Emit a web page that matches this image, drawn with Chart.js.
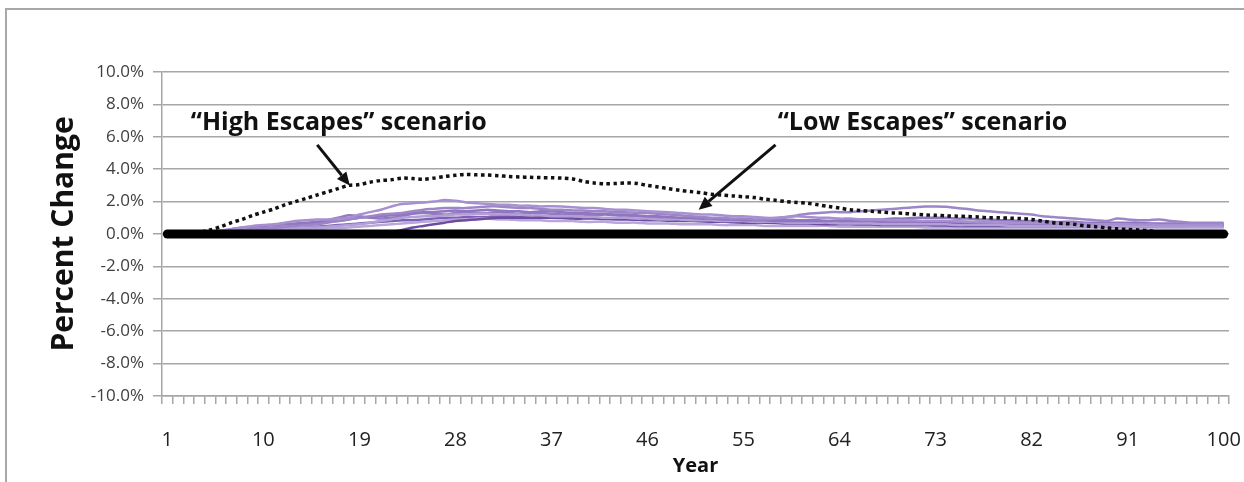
<!DOCTYPE html>
<html lang="en">
  <head>
    <meta charset="UTF-8" />
    <title>Percent Change by Year</title>
    <style>
      body { margin: 0; background: #fff; }
      #wrap { position: relative; width: 1244px; height: 482px; overflow: hidden; }
      #frame { position: absolute; left: 5px; top: 8px; right: -10px; bottom: -10px; border: 2px solid #a8a8a8; pointer-events: none; }
    </style>
  </head>
  <body>
    <div id="wrap">
      <canvas id="escapeChart"></canvas>
      <div id="frame"></div>
    </div>

    <script src="https://cdn.jsdelivr.net/npm/chart.js"></script>
    <script>
      // years 1..100
      const years = [];
      for (let y = 1; y <= 100; y++) years.push(String(y));
      const yearTicks = ["1", "10", "19", "28", "37", "46", "55", "64", "73", "82", "91", "100"];

      const baseline = [
        0, 0, 0, 0, 0, 0, 0, 0, 0, 0, 0, 0, 0, 0, 0, 0, 0, 0, 0, 0,
        0, 0, 0, 0, 0, 0, 0, 0, 0, 0, 0, 0, 0, 0, 0, 0, 0, 0, 0, 0,
        0, 0, 0, 0, 0, 0, 0, 0, 0, 0, 0, 0, 0, 0, 0, 0, 0, 0, 0, 0,
        0, 0, 0, 0, 0, 0, 0, 0, 0, 0, 0, 0, 0, 0, 0, 0, 0, 0, 0, 0,
        0, 0, 0, 0, 0, 0, 0, 0, 0, 0, 0, 0, 0, 0, 0, 0, 0, 0, 0, 0,
      ];

      const highEscapes = [
        0, 0, 0, 0.1, 0.25, 0.45, 0.7, 0.9, 1.15, 1.35,
        1.55, 1.8, 2.0, 2.2, 2.4, 2.6, 2.8, 3.0, 3.05, 3.2,
        3.3, 3.35, 3.45, 3.42, 3.38, 3.45, 3.55, 3.62, 3.68, 3.65,
        3.64, 3.6, 3.55, 3.52, 3.5, 3.48, 3.47, 3.45, 3.4, 3.25,
        3.15, 3.1, 3.12, 3.15, 3.12, 3.0, 2.9, 2.8, 2.7, 2.62,
        2.55, 2.45, 2.4, 2.35, 2.3, 2.25, 2.15, 2.08, 2.0, 1.95,
        1.9, 1.8, 1.7, 1.6, 1.5, 1.45, 1.4, 1.35, 1.3, 1.28,
        1.22, 1.18, 1.15, 1.12, 1.1, 1.08, 1.05, 1.0, 1.0, 0.98,
        0.95, 0.9, 0.8, 0.7, 0.65, 0.6, 0.5, 0.45, 0.38, 0.32,
        0.28, 0.25, 0.2, 0.1, 0, 0, 0, 0, 0, 0,
      ];

      const low1 = [
        0, 0, 0, 0.05, 0.1, 0.2, 0.3, 0.4, 0.5, 0.55,
        0.6, 0.7, 0.8, 0.85, 0.9, 0.9, 0.95, 1.0, 1.2, 1.35,
        1.5, 1.7, 1.85, 1.9, 1.95, 2.0, 2.1, 2.05, 1.95, 1.9,
        1.85, 1.8, 1.8, 1.75, 1.75, 1.7, 1.72, 1.7, 1.65, 1.6,
        1.6, 1.55, 1.5, 1.5, 1.45, 1.4, 1.38, 1.35, 1.3, 1.25,
        1.2, 1.2, 1.15, 1.1, 1.1, 1.05, 1.0, 1.0, 1.05, 1.1,
        1.05, 1.0, 1.0, 0.95, 0.95, 0.9, 0.9, 0.88, 0.85, 0.85,
        0.85, 0.8, 0.8, 0.8, 0.78, 0.75, 0.75, 0.72, 0.7, 0.7,
        0.7, 0.7, 0.68, 0.65, 0.65, 0.65, 0.62, 0.6, 0.6, 0.6,
        0.6, 0.58, 0.58, 0.55, 0.55, 0.55, 0.55, 0.55, 0.55, 0.55,
      ];
      const low2 = [
        0, 0, 0, 0, 0.05, 0.1, 0.15, 0.2, 0.3, 0.35,
        0.4, 0.45, 0.5, 0.55, 0.6, 0.7, 0.8, 0.9, 1.0, 1.1,
        1.2, 1.25, 1.3, 1.4, 1.5, 1.55, 1.6, 1.6, 1.6, 1.65,
        1.7, 1.7, 1.65, 1.6, 1.6, 1.55, 1.5, 1.5, 1.45, 1.45,
        1.4, 1.4, 1.35, 1.35, 1.3, 1.3, 1.25, 1.2, 1.15, 1.1,
        1.05, 1.0, 1.0, 0.95, 0.95, 0.9, 0.9, 0.95, 1.05, 1.15,
        1.25, 1.3, 1.35, 1.35, 1.35, 1.4, 1.45, 1.5, 1.55, 1.6,
        1.65, 1.7, 1.7, 1.68, 1.6, 1.55, 1.45, 1.4, 1.35, 1.3,
        1.25, 1.2, 1.1, 1.05, 1.0, 0.95, 0.9, 0.85, 0.8, 0.95,
        0.9, 0.85, 0.85, 0.9, 0.8, 0.75, 0.7, 0.7, 0.7, 0.7,
      ];
      const low3 = [
        0, 0, 0, 0.05, 0.1, 0.15, 0.2, 0.25, 0.3, 0.35,
        0.4, 0.45, 0.55, 0.65, 0.7, 0.75, 0.8, 0.9, 1.0, 1.05,
        1.1, 1.15, 1.2, 1.3, 1.35, 1.35, 1.4, 1.45, 1.4, 1.45,
        1.5, 1.45, 1.4, 1.4, 1.35, 1.4, 1.4, 1.35, 1.3, 1.3,
        1.25, 1.25, 1.2, 1.2, 1.15, 1.1, 1.1, 1.05, 1.0, 1.0,
        0.95, 0.95, 0.9, 0.9, 0.85, 0.85, 0.85, 0.8, 0.8, 0.8,
        0.8, 0.8, 0.8, 0.85, 0.85, 0.9, 0.9, 0.9, 0.95, 0.95,
        1.0, 1.0, 1.0, 1.0, 0.95, 0.95, 0.9, 0.9, 0.85, 0.85,
        0.8, 0.8, 0.8, 0.75, 0.75, 0.75, 0.7, 0.7, 0.7, 0.7,
        0.7, 0.7, 0.65, 0.65, 0.65, 0.65, 0.6, 0.6, 0.6, 0.6,
      ];
      const low4 = [
        0, 0, 0, 0, 0.05, 0.1, 0.15, 0.2, 0.25, 0.3,
        0.3, 0.35, 0.35, 0.4, 0.4, 0.45, 0.5, 0.55, 0.6, 0.7,
        0.8, 0.9, 1.0, 1.05, 1.1, 1.1, 1.15, 1.2, 1.2, 1.25,
        1.25, 1.2, 1.2, 1.2, 1.15, 1.15, 1.1, 1.1, 1.1, 1.05,
        1.05, 1.0, 1.0, 1.0, 0.95, 0.95, 0.9, 0.9, 0.9, 0.85,
        0.85, 0.85, 0.8, 0.8, 0.8, 0.75, 0.75, 0.75, 0.7, 0.7,
        0.7, 0.7, 0.7, 0.65, 0.65, 0.65, 0.65, 0.6, 0.6, 0.6,
        0.6, 0.6, 0.6, 0.6, 0.55, 0.55, 0.55, 0.55, 0.55, 0.5,
        0.5, 0.5, 0.5, 0.5, 0.5, 0.5, 0.5, 0.5, 0.5, 0.5,
        0.5, 0.5, 0.5, 0.48, 0.48, 0.48, 0.45, 0.45, 0.45, 0.45,
      ];
      const low5 = [
        0, 0, 0, 0, 0, 0, 0, 0, 0, 0,
        0, 0, 0, 0, 0, 0, 0, 0, 0.02, 0.05,
        0.1, 0.15, 0.25, 0.4, 0.5, 0.6, 0.7, 0.8, 0.85, 0.9,
        0.95, 1.0, 1.0, 1.0, 1.0, 1.0, 1.0, 0.98, 0.95, 0.95,
        0.95, 0.92, 0.9, 0.9, 0.88, 0.85, 0.85, 0.82, 0.8, 0.8,
        0.78, 0.75, 0.75, 0.72, 0.7, 0.7, 0.7, 0.68, 0.65, 0.65,
        0.65, 0.62, 0.6, 0.6, 0.6, 0.58, 0.58, 0.55, 0.55, 0.55,
        0.55, 0.55, 0.52, 0.52, 0.5, 0.5, 0.5, 0.5, 0.5, 0.5,
        0.5, 0.5, 0.5, 0.5, 0.5, 0.5, 0.5, 0.5, 0.5, 0.5,
        0.5, 0.5, 0.5, 0.5, 0.5, 0.5, 0.5, 0.5, 0.5, 0.5,
      ];
      const low6 = [
        0, 0, 0, 0, 0, 0.05, 0.1, 0.15, 0.2, 0.2,
        0.25, 0.25, 0.3, 0.3, 0.3, 0.35, 0.35, 0.4, 0.45, 0.5,
        0.55, 0.6, 0.65, 0.7, 0.75, 0.8, 0.85, 0.9, 0.9, 0.95,
        0.95, 0.9, 0.9, 0.85, 0.85, 0.85, 0.8, 0.8, 0.8, 0.75,
        0.75, 0.75, 0.7, 0.7, 0.7, 0.65, 0.65, 0.65, 0.6, 0.6,
        0.6, 0.6, 0.55, 0.55, 0.55, 0.55, 0.5, 0.5, 0.5, 0.5,
        0.5, 0.5, 0.5, 0.45, 0.45, 0.45, 0.45, 0.45, 0.45, 0.45,
        0.45, 0.4, 0.4, 0.4, 0.4, 0.4, 0.4, 0.4, 0.4, 0.4,
        0.4, 0.4, 0.4, 0.4, 0.4, 0.4, 0.4, 0.4, 0.4, 0.4,
        0.4, 0.4, 0.4, 0.4, 0.4, 0.4, 0.4, 0.4, 0.4, 0.4,
      ];
      const low7 = [
        0, 0, 0, 0.05, 0.1, 0.2, 0.3, 0.4, 0.45, 0.5,
        0.55, 0.6, 0.65, 0.7, 0.75, 0.85, 1.0, 1.15, 1.1, 1.0,
        0.95, 1.0, 1.1, 1.25, 1.3, 1.25, 1.2, 1.3, 1.35, 1.3,
        1.3, 1.35, 1.3, 1.25, 1.3, 1.3, 1.25, 1.2, 1.2, 1.2,
        1.15, 1.2, 1.15, 1.1, 1.1, 1.05, 1.0, 1.0, 0.95, 0.95,
        0.95, 0.9, 0.9, 0.9, 0.85, 0.85, 0.9, 0.9, 0.9, 0.85,
        0.85, 0.85, 0.8, 0.8, 0.8, 0.8, 0.75, 0.75, 0.75, 0.75,
        0.75, 0.8, 0.8, 0.8, 0.75, 0.75, 0.7, 0.7, 0.7, 0.7,
        0.7, 0.7, 0.65, 0.65, 0.65, 0.65, 0.65, 0.65, 0.6, 0.6,
        0.65, 0.65, 0.6, 0.6, 0.6, 0.6, 0.6, 0.6, 0.6, 0.6,
      ];
      const low8 = [
        0, 0, 0, 0, 0.05, 0.1, 0.1, 0.15, 0.2, 0.25,
        0.3, 0.3, 0.35, 0.4, 0.45, 0.5, 0.55, 0.6, 0.65, 0.7,
        0.75, 0.8, 0.85, 0.85, 0.9, 0.95, 1.0, 1.0, 1.05, 1.05,
        1.05, 1.1, 1.1, 1.05, 1.05, 1.05, 1.0, 1.0, 1.0, 1.0,
        1.0, 0.95, 0.95, 0.95, 0.9, 0.9, 0.9, 0.85, 0.85, 0.85,
        0.8, 0.8, 0.8, 0.75, 0.75, 0.75, 0.75, 0.7, 0.7, 0.7,
        0.7, 0.7, 0.7, 0.7, 0.7, 0.7, 0.7, 0.7, 0.7, 0.7,
        0.7, 0.7, 0.7, 0.7, 0.7, 0.68, 0.68, 0.68, 0.65, 0.65,
        0.65, 0.65, 0.65, 0.62, 0.62, 0.62, 0.6, 0.6, 0.6, 0.6,
        0.6, 0.62, 0.62, 0.6, 0.6, 0.6, 0.62, 0.62, 0.62, 0.62,
      ];

      const lowSeries = [low1, low2, low3, low4, low5, low6, low7, low8];
      const lowColors = ["#a690d0", "#9c86c8", "#8f76bf", "#b19fd8", "#6e4c9f", "#b8a6dc", "#9479c2", "#7d60b0"];

      const gridColor = "#a6a6a6";
      const labelColor = "#404040";

      let datasets = [
        {
          label: "Baseline",
          data: baseline,
          borderColor: "#000",
          borderWidth: 9,
          borderCapStyle: "round",
          pointRadius: 0,
          order: 0,
        },
        {
          label: "High Escapes",
          data: highEscapes,
          borderColor: "#111",
          borderWidth: 3.5,
          borderDash: [3.5, 3.5],
          pointRadius: 0,
          tension: 0.3,
          order: 1,
        },
      ];
      lowSeries.forEach((s, i) => {
        datasets.push({
          label: "Low Escapes " + (i + 1),
          data: s,
          borderColor: lowColors[i],
          borderWidth: 2.5,
          pointRadius: 0,
          tension: 0.3,
          order: 2 + i,
        });
      });

      // callouts, placed in data space (year, percent)
      const callouts = {
        id: "callouts",
        afterDatasetsDraw(chart) {
          const { ctx, scales } = chart;
          const px = (yr) => scales.x.getPixelForValue(yr - 1);
          const py = (v) => scales.y.getPixelForValue(v);
          ctx.save();
          ctx.fillStyle = "#111";
          ctx.strokeStyle = "#111";
          ctx.font = "bold 25px 'Open Sans'";
          ctx.textBaseline = "middle";
          ctx.fillText("\u201CHigh Escapes\u201D scenario", px(3.2), py(6.85));
          ctx.fillText("\u201CLow Escapes\u201D scenario", px(58.2), py(6.85));
          const arrow = (x1, y1, x2, y2) => {
            const a = Math.atan2(y2 - y1, x2 - x1);
            const head = 13;
            const bx = x2 - head * Math.cos(a);
            const by = y2 - head * Math.sin(a);
            ctx.lineWidth = 3;
            ctx.beginPath();
            ctx.moveTo(x1, y1);
            ctx.lineTo(bx, by);
            ctx.stroke();
            ctx.beginPath();
            ctx.moveTo(x2, y2);
            ctx.lineTo(bx + 6 * Math.sin(a), by - 6 * Math.cos(a));
            ctx.lineTo(bx - 6 * Math.sin(a), by + 6 * Math.cos(a));
            ctx.closePath();
            ctx.fill();
          };
          arrow(px(15.05), py(5.5), px(18.1), py(3.0));
          arrow(px(58), py(5.5), px(50.8), py(1.5));
          ctx.restore();
        },
      };

      let canvas = document.querySelector("#escapeChart");
      let chart = new Chart(canvas, {
        type: "line",
        data: { labels: years, datasets: datasets },
        plugins: [callouts],
        options: {
          responsive: true,
          maintainAspectRatio: false,
          animation: false,
          devicePixelRatio: 1,
          layout: { padding: { top: 72, right: 15, bottom: 0, left: 0 } },
          plugins: { legend: { display: false }, tooltip: { enabled: false } },
          scales: {
            x: {
              offset: true,
              afterFit: (scale) => {
                scale.height = 86;
                scale.paddingLeft = 0;
                scale.paddingRight = 0;
              },
              grid: { offset: true, drawOnChartArea: false, color: gridColor, tickLength: 8, lineWidth: 1.5 },
              border: { color: gridColor, width: 1.5 },
              ticks: {
                autoSkip: false,
                maxRotation: 0,
                padding: 24,
                color: "#222",
                font: { family: "Open Sans", size: 20 },
                callback: function (val) {
                  const lbl = this.getLabelForValue(val);
                  return yearTicks.includes(lbl) ? lbl : "";
                },
              },
              title: {
                display: true,
                text: "Year",
                color: "#111",
                font: { family: "Open Sans", size: 20, weight: "bold" },
                padding: { top: 0, bottom: 4 },
              },
            },
            y: {
              min: -10,
              max: 10,
              afterFit: (scale) => { scale.width = 162; },
              grid: { color: gridColor, tickLength: 9, lineWidth: 1.5 },
              border: { color: gridColor, width: 1.5 },
              ticks: {
                stepSize: 2,
                padding: 9,
                color: labelColor,
                font: { family: "Open Sans", size: 17 },
                callback: (v) => v.toFixed(1) + "%",
              },
              title: {
                display: true,
                text: "Percent Change",
                color: "#111",
                font: { family: "Open Sans", size: 30, weight: "bold" },
                padding: { top: 46, bottom: 0 },
              },
            },
          },
        },
      });
    </script>
  </body>
</html>
